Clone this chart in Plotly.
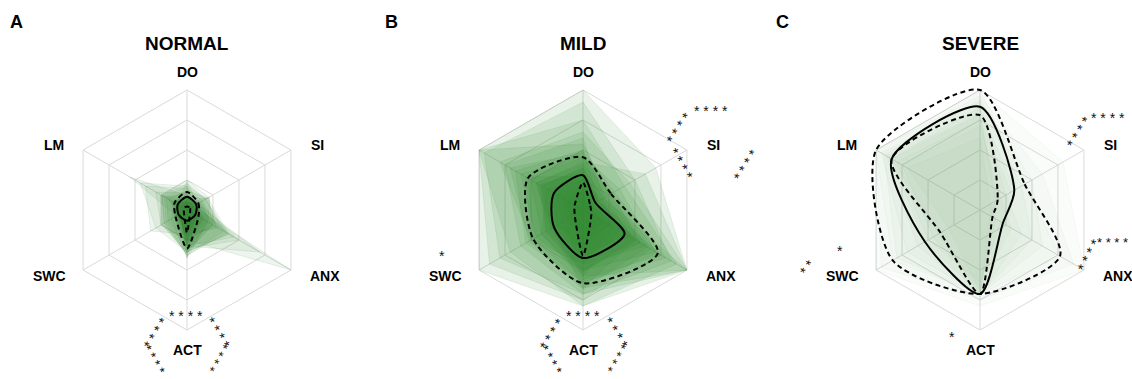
import plotly.graph_objects as go

# Domain axes, clockwise from the top
AXES = ["DO", "SI", "ANX", "ACT", "SWC", "LM"]
GROUPS = ["NORMAL", "MILD", "SEVERE"]
PANEL_LETTERS = ["A", "B", "C"]
RING_LEVELS = [25, 50, 75, 100]

# Individual profiles (DO, SI, ANX, ACT, SWC, LM), scores 0-100
NORMAL_SUBJECTS = [
    [8, 6, 10, 22, 6, 8],
    [12, 8, 18, 30, 10, 14],
    [20, 18, 35, 38, 20, 22],
    [10, 20, 40, 35, 22, 24],
    [24, 10, 12, 28, 8, 10],
    [6, 5, 8, 40, 6, 6],
    [15, 12, 25, 34, 18, 20],
    [10, 8, 45, 30, 12, 15],
    [5, 22, 20, 36, 24, 25],
    [8, 6, 100, 25, 8, 10],
    [12, 10, 70, 30, 10, 55],
    [18, 15, 30, 20, 35, 40],
    [8, 10, 12, 15, 10, 8],
    [22, 18, 38, 38, 22, 24],
    [14, 6, 15, 25, 25, 30],
    [6, 12, 50, 32, 6, 6],
    [10, 8, 20, 40, 15, 12],
    [16, 20, 28, 22, 8, 18],
    [4, 4, 6, 18, 4, 4],
    [20, 8, 40, 35, 30, 45],
    [11, 9, 9, 26, 9, 11],
    [9, 14, 22, 33, 12, 10],
    [12, 10, 10, 12, 10, 12],
    [10, 11, 12, 30, 11, 10],
    [25, 21, 24, 36, 24, 24],
    [7, 7, 15, 28, 7, 9],
]
NORMAL_MEDIAN = [11, 9, 8, 9, 8, 9]
NORMAL_Q1 = [3, 3, 3, 19, 3, 3]
NORMAL_Q3 = [15, 11, 11, 32, 11, 12]

MILD_SUBJECTS = [
    [44, 27, 72, 61, 48, 53],
    [29, 12, 40, 40, 28, 28],
    [23, 7, 8, 38, 8, 8],
    [60, 20, 100, 70, 60, 75],
    [35, 15, 55, 50, 35, 40],
    [75, 40, 90, 80, 70, 100],
    [20, 10, 30, 45, 20, 25],
    [50, 30, 80, 60, 55, 65],
    [40, 60, 100, 55, 30, 45],
    [15, 5, 25, 30, 15, 20],
    [55, 25, 65, 75, 90, 100],
    [30, 8, 45, 35, 25, 30],
    [65, 45, 100, 65, 50, 80],
    [25, 18, 35, 55, 40, 35],
    [10, 5, 20, 25, 12, 15],
    [45, 35, 70, 50, 45, 60],
    [90, 50, 85, 70, 80, 95],
    [35, 20, 50, 65, 30, 40],
    [28, 10, 60, 45, 50, 55],
    [50, 15, 75, 58, 40, 50],
    [100, 70, 100, 80, 100, 100],
    [38, 28, 55, 42, 32, 45],
    [32, 14, 48, 52, 36, 42],
    [48, 22, 62, 66, 52, 70],
]
MILD_MEDIAN = [29, 12, 40, 40, 28, 28]
MILD_Q1 = [23, 7, 8, 38, 8, 8]
MILD_Q3 = [44, 27, 72, 61, 48, 53]

SEVERE_SUBJECTS = [
    [86, 33, 22, 70, 53, 85],
    [100, 43, 77, 70, 84, 100],
    [79, 17, 12, 70, 38, 85],
    [95, 60, 90, 75, 95, 100],
    [70, 20, 30, 65, 45, 75],
    [90, 40, 50, 70, 70, 95],
    [60, 10, 15, 68, 30, 70],
    [100, 80, 100, 80, 100, 100],
    [85, 25, 40, 72, 60, 90],
    [75, 30, 20, 60, 50, 80],
    [92, 50, 60, 70, 80, 92],
    [80, 15, 10, 70, 40, 88],
]
SEVERE_MEDIAN = [86, 33, 22, 70, 53, 85]
SEVERE_Q1 = [79, 17, 12, 70, 38, 85]
SEVERE_Q3 = [100, 43, 77, 70, 84, 100]

SUBJECTS = [NORMAL_SUBJECTS, MILD_SUBJECTS, SEVERE_SUBJECTS]
MEDIANS = [NORMAL_MEDIAN, MILD_MEDIAN, SEVERE_MEDIAN]
Q1S = [NORMAL_Q1, MILD_Q1, SEVERE_Q1]
Q3S = [NORMAL_Q3, MILD_Q3, SEVERE_Q3]

# Significance marks: (text, x px, y px, angle, size)
STARS = [
    [("* * * *", 186, 316, 0, 14), ("* * * *", 156, 333, -58, 14), ("* * * *", 154, 359, 60, 13),
     ("* * * *", 218, 333, 58, 14), ("* * * *", 220, 359, -60, 13)],
    [("* * * *", 583, 316, 0, 14), ("* * * *", 552, 334, -58, 14), ("* * * *", 551, 359, 60, 13),
     ("* * * *", 616, 333, 58, 14), ("* * * *", 618, 359, -60, 13),
     ("* * * *", 711, 111, 0, 14), ("* * * *", 679, 128, -57, 14), ("* * * *", 681, 164, 60, 14),
     ("* * * *", 746, 165, -58, 14), ("*", 442, 256, 0, 14)],
    [("*", 840, 251, 0, 14), ("* *", 807, 268, -55, 14), ("*", 952, 337, 0, 14),
     ("* * * *", 1108, 118, 0, 14), ("* * * *", 1079, 132, -58, 14),
     ("* * * *", 1112, 242, 0, 13), ("* * * *", 1089, 255, -63, 14)],
]

W, H = 1132, 379
CENTERS_X = [187, 583, 980]
CENTER_Y = 210
RADIUS = 120          # pixel radius of the 100 ring
R_MAX = 112           # radial range head-room so smoothed outlines are not clipped
GRID = "#dadada"
# axis-label offsets from the chart centre, in pixels, same order as AXES
LABEL_OFFSETS = [(0, -138), (130, -65), (138, 66), (0, 140), (-138, 66), (-133, -65)]
GREEN = ["40,125,40", "45,135,45", "90,150,85"]
FILL_ALPHA = [0.08, 0.11, 0.03]
LINE_ALPHA = [0.10, 0.10, 0.05]
FONT = "Liberation Sans, Arial, sans-serif"


def closed(values):
    return list(values) + [values[0]], AXES + [AXES[0]]


fig = go.Figure()

for i, group in enumerate(GROUPS):
    pid = "polar" if i == 0 else f"polar{i + 1}"
    # spokes, stopping at the outer ring
    for ax in AXES:
        fig.add_trace(go.Scatterpolar(
            r=[0, RING_LEVELS[-1]], theta=[ax, ax], mode="lines",
            line=dict(color=GRID, width=1), hoverinfo="skip", showlegend=False,
            subplot=pid))
    for prof in SUBJECTS[i]:
        r, th = closed(prof)
        fig.add_trace(go.Scatterpolar(
            r=r, theta=th, mode="lines", fill="toself",
            fillcolor=f"rgba({GREEN[i]},{FILL_ALPHA[i]})",
            line=dict(color=f"rgba({GREEN[i]},{LINE_ALPHA[i]})", width=1),
            hoverinfo="skip", showlegend=False, subplot=pid))
    for vals, dash in ((Q3S[i], "5px,3.5px"), (Q1S[i], "5px,3.5px"), (MEDIANS[i], "solid")):
        r, th = closed(vals)
        fig.add_trace(go.Scatterpolar(
            r=r, theta=th, mode="lines",
            line=dict(color="black", width=2, dash=dash, shape="spline", smoothing=0.75),
            hoverinfo="skip", showlegend=False, subplot=pid))

    cx = CENTERS_X[i]
    half = RADIUS * R_MAX / 100
    polar = dict(
        domain=dict(x=[(cx - half) / W, (cx + half) / W],
                    y=[(H - CENTER_Y - half) / H, (H - CENTER_Y + half) / H]),
        gridshape="linear",
        bgcolor="rgba(0,0,0,0)",
        radialaxis=dict(range=[0, R_MAX], tickvals=RING_LEVELS, showticklabels=False,
                        ticks="", showline=False, gridcolor=GRID, gridwidth=1),
        angularaxis=dict(rotation=90, direction="clockwise", categoryorder="array",
                         categoryarray=AXES, showline=False, showgrid=False, ticks="",
                         showticklabels=False),
    )
    fig.update_layout(**{pid: polar})

annotations = []


def add_text(text, x, y, size, angle=0, color="black"):
    annotations.append(dict(text=text, x=x / W, y=1 - y / H, xref="paper", yref="paper",
                            xanchor="center", yanchor="middle", showarrow=False,
                            textangle=angle, font=dict(family=FONT, size=size, color=color)))


for i, group in enumerate(GROUPS):
    cx = CENTERS_X[i]
    add_text(f"<b>{group}</b>", cx, 44, 19)
    for name, (dx, dy) in zip(AXES, LABEL_OFFSETS):
        add_text(f"<b>{name}</b>", cx + dx, CENTER_Y + dy, 14)
for letter, lx in zip(PANEL_LETTERS, [16, 391, 782]):
    add_text(f"<b>{letter}</b>", lx, 22, 18)
for panel in STARS:
    for txt, sx, sy, ang, size in panel:
        add_text(txt, sx, sy, size, ang, "#111111")

fig.update_layout(width=W, height=H, margin=dict(l=0, r=0, t=0, b=0),
                  paper_bgcolor="white", plot_bgcolor="white",
                  annotations=annotations, showlegend=False)

fig.write_html("out.html")
